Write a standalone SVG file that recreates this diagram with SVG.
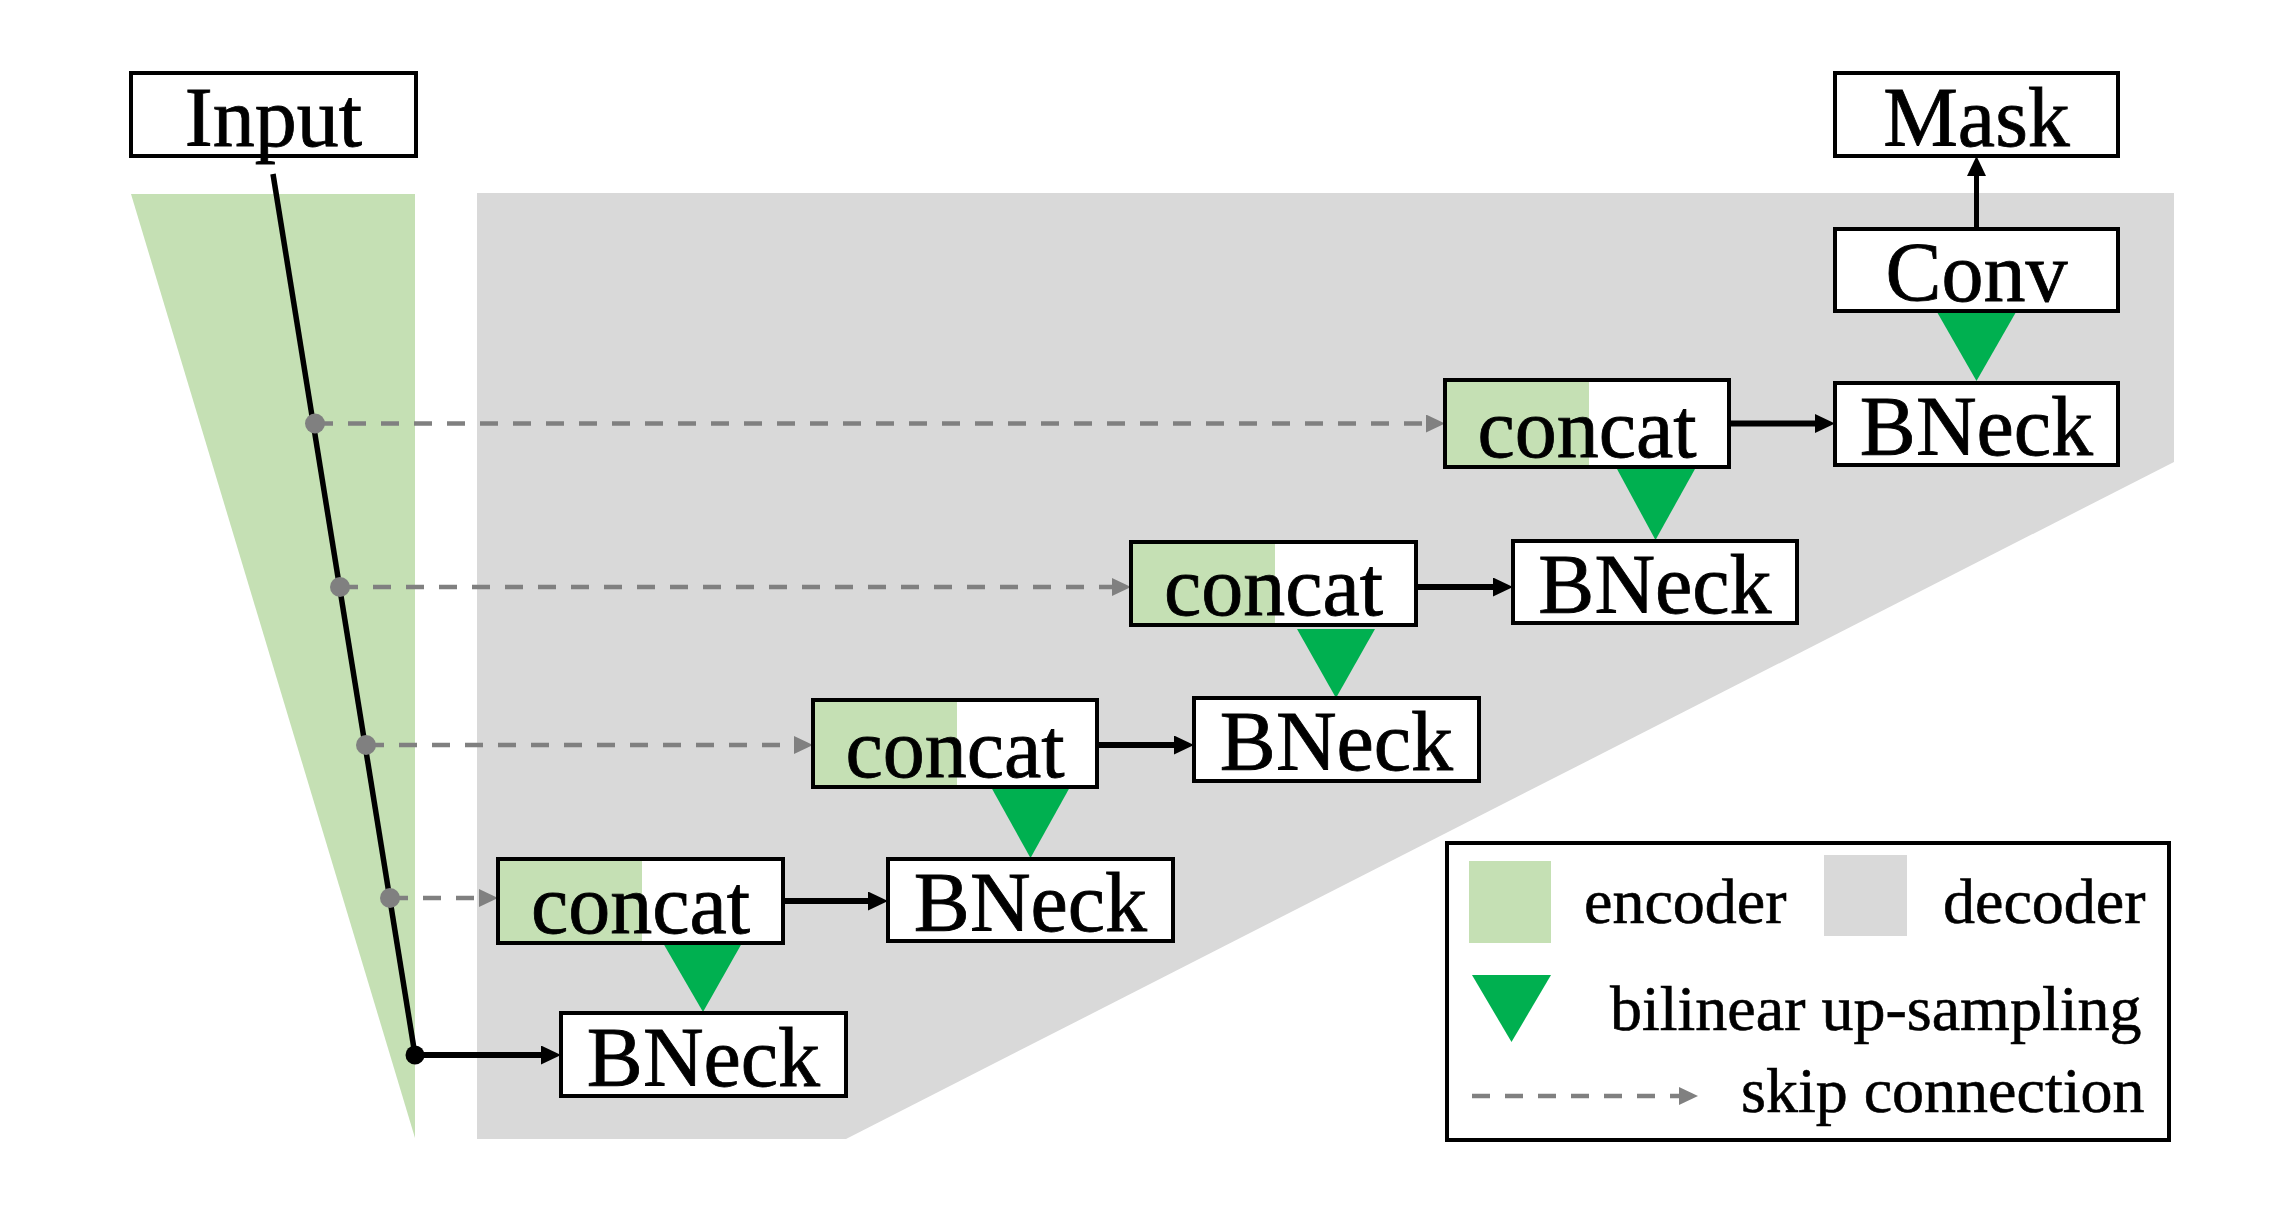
<svg xmlns="http://www.w3.org/2000/svg" width="2282" height="1225" viewBox="0 0 2282 1225">
<style>
.box{fill:#fff;stroke:#000;stroke-width:4}
.frame{fill:none;stroke:#000;stroke-width:4}
.enc{fill:#C5E0B4}
.dec{fill:#D9D9D9}
.lbl{font-family:"Liberation Serif","Times New Roman",serif;font-size:84px;fill:#000;stroke:#000;stroke-width:0.8;text-anchor:middle}
.leg{font-family:"Liberation Serif","Times New Roman",serif;font-size:64px;fill:#000;stroke:#000;stroke-width:0.6}
.up{fill:#00B050}
.solid{stroke:#000;stroke-width:6;fill:none}
.skip{stroke:#808080;stroke-width:4.5;stroke-dasharray:18 15;fill:none}
</style>
<defs>
<marker id="ah" markerUnits="userSpaceOnUse" markerWidth="22" markerHeight="22" refX="10" refY="9.5" orient="auto"><path d="M0,0 L20,9.5 L0,19 z" fill="#000"/></marker>
<marker id="ahg" markerUnits="userSpaceOnUse" markerWidth="22" markerHeight="22" refX="9" refY="9" orient="auto"><path d="M0,0 L19,9 L0,18 z" fill="#808080"/></marker>
</defs>
<rect width="2282" height="1225" fill="#fff"/>
<g id="backgrounds">
<polygon class="enc" points="131,194 415,194 415,1138"/>
<polygon class="dec" points="477,193 2174,193 2174,462 846,1139 477,1139"/>
</g>
<g id="connectors">
<line class="solid" x1="273" y1="174" x2="415" y2="1055" style="stroke-width:5.5"/>
<line class="skip" x1="315" y1="423.5" x2="1435" y2="423.5" marker-end="url(#ahg)"/>
<line class="skip" x1="340" y1="587" x2="1121" y2="587" marker-end="url(#ahg)"/>
<line class="skip" x1="366" y1="745" x2="803" y2="745" marker-end="url(#ahg)"/>
<line class="skip" x1="390" y1="898" x2="488" y2="898" marker-end="url(#ahg)"/>
<circle cx="315" cy="423.5" r="10" fill="#808080"/>
<circle cx="340" cy="587" r="10" fill="#808080"/>
<circle cx="366" cy="745" r="10" fill="#808080"/>
<circle cx="390" cy="898" r="10" fill="#808080"/>
<circle cx="415" cy="1055" r="9.5" fill="#000"/>
<line class="solid" x1="415" y1="1055" x2="551" y2="1055" marker-end="url(#ah)"/>
<line class="solid" x1="783" y1="901" x2="878" y2="901" marker-end="url(#ah)"/>
<line class="solid" x1="1097" y1="745" x2="1184" y2="745" marker-end="url(#ah)"/>
<line class="solid" x1="1416" y1="587" x2="1503" y2="587" marker-end="url(#ah)"/>
<line class="solid" x1="1729" y1="423.5" x2="1825" y2="423.5" marker-end="url(#ah)"/>
<line class="solid" x1="1976.5" y1="229" x2="1976.5" y2="166" marker-end="url(#ah)" style="stroke-width:5"/>
<polygon class="up" points="663,943 742,943 703,1012"/>
<polygon class="up" points="991,787 1070,787 1030.5,858"/>
<polygon class="up" points="1297,629 1375,629 1336,698"/>
<polygon class="up" points="1617,469 1695,469 1655.5,540"/>
<polygon class="up" points="1937,312 2016,312 1976.5,381"/>
</g>
<g id="input"><rect class="box" x="131" y="73" width="285" height="83"/><text class="lbl" x="273.5" y="146">Input</text></g>
<g id="mask"><rect class="box" x="1835" y="73" width="283" height="83"/><text class="lbl" x="1976.5" y="146">Mask</text></g>
<g id="conv"><rect class="box" x="1835" y="229" width="283" height="82"/><text class="lbl" x="1976.5" y="301">Conv</text></g>
<g id="bneck1"><rect class="box" x="1835" y="383" width="283" height="82"/><text class="lbl" x="1976.5" y="455">BNeck</text></g>
<g id="concat1"><rect class="box" x="1445" y="380" width="284" height="87"/><rect class="enc" x="1447" y="382" width="142" height="83"/><rect class="frame" x="1445" y="380" width="284" height="87"/><text class="lbl" x="1587" y="457">concat</text></g>
<g id="bneck2"><rect class="box" x="1513" y="541" width="284" height="82"/><text class="lbl" x="1655" y="613">BNeck</text></g>
<g id="concat2"><rect class="box" x="1131" y="542" width="285" height="83"/><rect class="enc" x="1133" y="544" width="142" height="79"/><rect class="frame" x="1131" y="542" width="285" height="83"/><text class="lbl" x="1273.5" y="615">concat</text></g>
<g id="bneck3"><rect class="box" x="1194" y="698" width="285" height="83"/><text class="lbl" x="1336.5" y="770">BNeck</text></g>
<g id="concat3"><rect class="box" x="813" y="700" width="284" height="87"/><rect class="enc" x="815" y="702" width="142" height="83"/><rect class="frame" x="813" y="700" width="284" height="87"/><text class="lbl" x="955" y="777">concat</text></g>
<g id="bneck4"><rect class="box" x="888" y="859" width="285" height="82"/><text class="lbl" x="1030.5" y="931">BNeck</text></g>
<g id="concat4"><rect class="box" x="498" y="859" width="285" height="84"/><rect class="enc" x="500" y="861" width="142" height="80"/><rect class="frame" x="498" y="859" width="285" height="84"/><text class="lbl" x="640.5" y="933">concat</text></g>
<g id="bneck5"><rect class="box" x="561" y="1013" width="285" height="83"/><text class="lbl" x="703.5" y="1086">BNeck</text></g>
<g id="legend">
<rect class="box" x="1447" y="843" width="722" height="297"/>
<rect class="enc" x="1469" y="861" width="82" height="82"/>
<text class="leg" x="1584" y="923">encoder</text>
<rect class="dec" x="1824" y="855" width="83" height="81"/>
<text class="leg" x="1943" y="923">decoder</text>
<polygon class="up" points="1472,975 1551,975 1511.5,1042"/>
<text class="leg" x="1610" y="1030">bilinear up-sampling</text>
<line class="skip" x1="1472" y1="1096" x2="1688" y2="1096" marker-end="url(#ahg)"/>
<text class="leg" x="1741" y="1112">skip connection</text>
</g>
</svg>
